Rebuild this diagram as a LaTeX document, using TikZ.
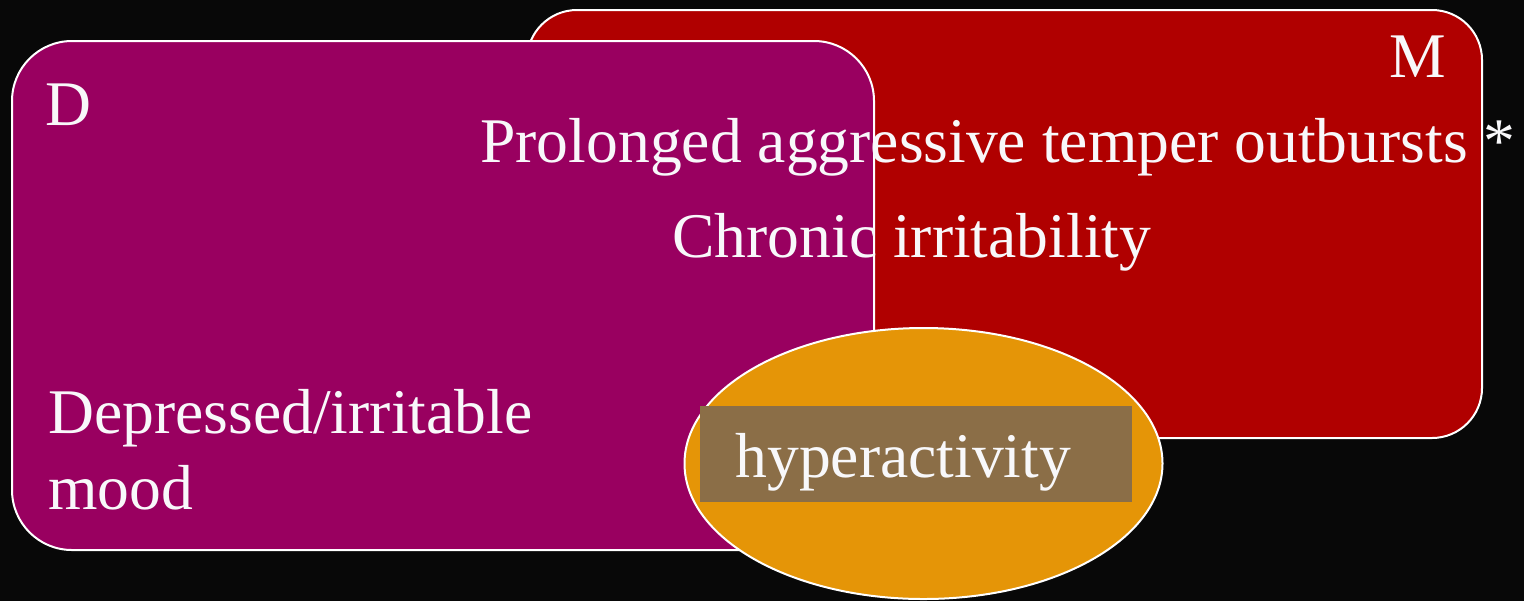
\documentclass[tikz,border=0pt]{standalone}
\usepackage{fontspec}
\setmainfont{Liberation Serif}
\usetikzlibrary{shapes.geometric}
\definecolor{bgdark}{RGB}{8,8,8}
\definecolor{dmagenta}{RGB}{153,0,96}
\definecolor{mred}{RGB}{176,0,0}
\definecolor{horange}{RGB}{229,149,7}
\definecolor{hbrown}{RGB}{139,110,71}
\definecolor{txtwhite}{RGB}{248,248,250}
\tikzset{
  panel/.style={draw=white, line width=1pt, inner sep=0pt, outer sep=0pt},
  lbl/.style={text=txtwhite, inner sep=0pt, anchor=base west,
    font=\fontsize{31.8}{37}\selectfont},
}
\begin{document}
\begin{tikzpicture}[x=0.5pt, y=-0.5pt]
  % canvas
  \fill[bgdark] (0,0) rectangle (1524,601);
  \useasboundingbox (0,0) rectangle (1524,601);
  % M panel (behind), D panel (front)
  \node[panel, fill=mred, rounded corners=25pt, minimum width=477.5pt,
        minimum height=214pt] (mbox) at (1004.5,224) {};
  \node[panel, fill=dmagenta, rounded corners=30pt, minimum width=431pt,
        minimum height=254.5pt] (dbox) at (443,295.5) {};
  % overlapping oval with highlight band
  \node[panel, ellipse, fill=horange, minimum width=239pt,
        minimum height=135.5pt] (hyp) at (923.5,463.5) {};
  \node[fill=hbrown, inner sep=0pt, minimum width=216pt,
        minimum height=48pt] (hypband) at (916,454) {};
  % labels
  \node[lbl] (dlabel) at (45,125) {D};
  \node[lbl] (mlabel) at (1389,77) {M};
  \node[lbl] (temper) at (480,162) {Prolonged aggressive temper outbursts *};
  \node[lbl] (chronic) at (672,257) {Chronic irritability};
  \node[lbl] (mood1) at (48,433) {Depressed/irritable};
  \node[lbl] (mood2) at (48,509) {mood};
  \node[lbl] (hyptext) at (735,477) {hyperactivity};
\end{tikzpicture}
\end{document}
